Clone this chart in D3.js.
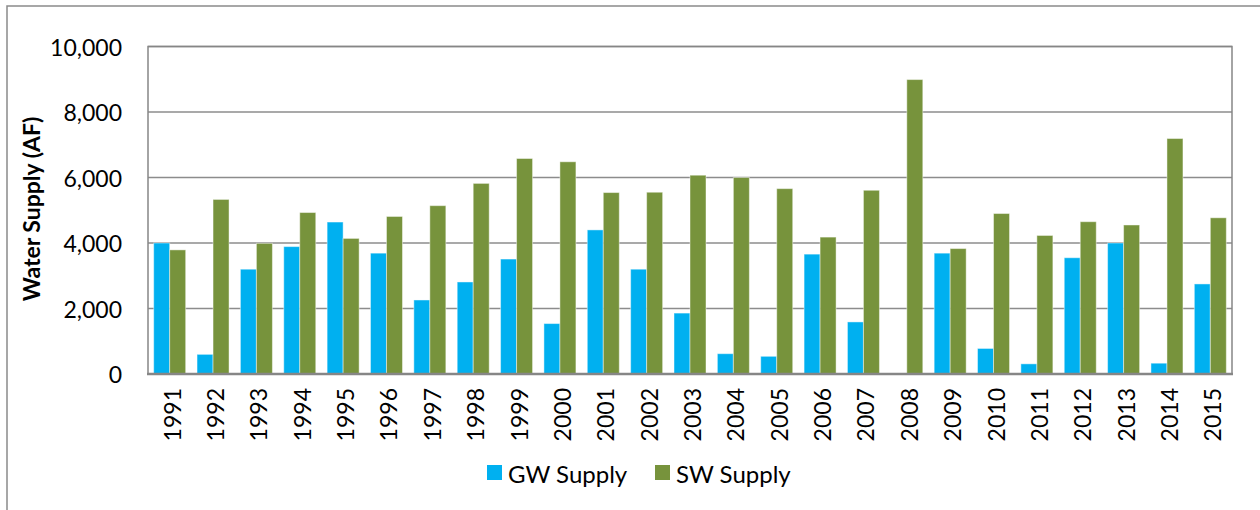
<!DOCTYPE html>
<html>
<head>
<meta charset="utf-8">
<script src="https://cdn.jsdelivr.net/npm/d3@7"></script>
<style>
  body { margin: 0; background: #fff; }
  text { font-family: Lato, "Open Sans", sans-serif; fill: #000; }
</style>
</head>
<body>
<svg id="chart" width="1260" height="510"></svg>
<script>
const years = ['1991','1992','1993','1994','1995','1996','1997','1998','1999','2000',
               '2001','2002','2003','2004','2005','2006','2007','2008','2009','2010',
               '2011','2012','2013','2014','2015'];
const gwSupply = [4000, 600, 3200, 3890, 4640, 3690, 2260, 2810, 3510, 1540,
                  4400, 3200, 1860, 620, 540, 3660, 1590, 0, 3690, 780,
                  310, 3550, 4000, 330, 2750];
const swSupply = [3790, 5330, 3990, 4930, 4140, 4810, 5140, 5820, 6580, 6480,
                  5540, 5550, 6070, 6000, 5660, 4180, 5610, 8990, 3830, 4900,
                  4230, 4650, 4550, 7190, 4770];
const seriesNames = ['GW Supply', 'SW Supply'];
const seriesColors = ['#00B0F0', '#77933C'];
const yTicks = [0, 2000, 4000, 6000, 8000, 10000];

const svg = d3.select('#chart');
const plot = { left: 148, right: 1232, top: 46.5, bottom: 374 };

// outer chart frame (runs off the right/bottom of the picture)
svg.append('rect')
    .attr('x', 7).attr('y', 6)
    .attr('width', 1300).attr('height', 600)
    .attr('fill', 'none').attr('stroke', '#8a8a8a').attr('stroke-width', 1.5);

let x = d3.scaleBand().domain(years).range([plot.left, plot.right]).padding(0);
let xSub = d3.scaleBand().domain([0, 1]).range([0, x.bandwidth()])
    .paddingInner(0).paddingOuter(0.355);
let y = d3.scaleLinear().domain([0, 10000]).range([plot.bottom, plot.top]);

// gridlines
svg.append('g').selectAll('line')
    .data(yTicks.filter(d => d > 0))
    .enter().append('line')
    .attr('x1', plot.left).attr('x2', plot.right)
    .attr('y1', d => y(d)).attr('y2', d => y(d))
    .attr('stroke', '#8c8c8c').attr('stroke-width', 1.5);

// plot border
svg.append('rect')
    .attr('x', plot.left).attr('y', plot.top)
    .attr('width', plot.right - plot.left).attr('height', plot.bottom - plot.top)
    .attr('fill', 'none').attr('stroke', '#868686').attr('stroke-width', 1.5);

// bars
let rows = years.map((yr, i) => ({ year: yr, values: [gwSupply[i], swSupply[i]] }));
let groups = svg.append('g').selectAll('g')
    .data(rows).enter().append('g')
    .attr('transform', d => `translate(${x(d.year)},0)`);

groups.selectAll('rect')
    .data(d => d.values.map((v, k) => ({ k: k, v: v })))
    .enter().append('rect')
    .attr('x', d => xSub(d.k))
    .attr('width', xSub.bandwidth())
    .attr('y', d => y(d.v))
    .attr('height', d => y(0) - y(d.v))
    .attr('fill', d => seriesColors[d.k])
    .attr('stroke', d => d.v > 0 ? 'rgba(255,255,255,0.45)' : 'none')
    .attr('stroke-width', 1);

// x axis line
svg.append('line')
    .attr('x1', plot.left - 1).attr('x2', plot.right + 1)
    .attr('y1', plot.bottom).attr('y2', plot.bottom)
    .attr('stroke', '#868686').attr('stroke-width', 2.5);

// y tick labels
let fmt = d3.format(',');
svg.append('g').selectAll('text')
    .data(yTicks).enter().append('text')
    .attr('x', 122).attr('y', d => y(d))
    .attr('text-anchor', 'end')
    .attr('dominant-baseline', 'central')
    .style('font-size', '23px')
    .text(d => fmt(d));

// year labels
svg.append('g').selectAll('text')
    .data(years).enter().append('text')
    .attr('transform', d => `translate(${x(d) + x.bandwidth() / 2 + 2},388) rotate(-90)`)
    .attr('text-anchor', 'end')
    .attr('dominant-baseline', 'central')
    .style('font-size', '23px')
    .text(d => d);

// y axis title
svg.append('text')
    .attr('transform', 'translate(31,209) rotate(-90)')
    .attr('text-anchor', 'middle')
    .attr('dominant-baseline', 'central')
    .style('font-size', '23px')
    .style('font-weight', 'bold')
    .text('Water Supply (AF)');

// legend
const legendX = [487, 655];
let legend = svg.append('g').selectAll('g')
    .data(seriesNames).enter().append('g')
    .attr('transform', (d, i) => `translate(${legendX[i]},465)`);
legend.append('rect')
    .attr('width', 15).attr('height', 15)
    .attr('fill', (d, i) => seriesColors[i]);
legend.append('text')
    .attr('x', 21).attr('y', 8)
    .attr('dominant-baseline', 'central')
    .style('font-size', '24px')
    .text(d => d);
</script>
</body>
</html>
